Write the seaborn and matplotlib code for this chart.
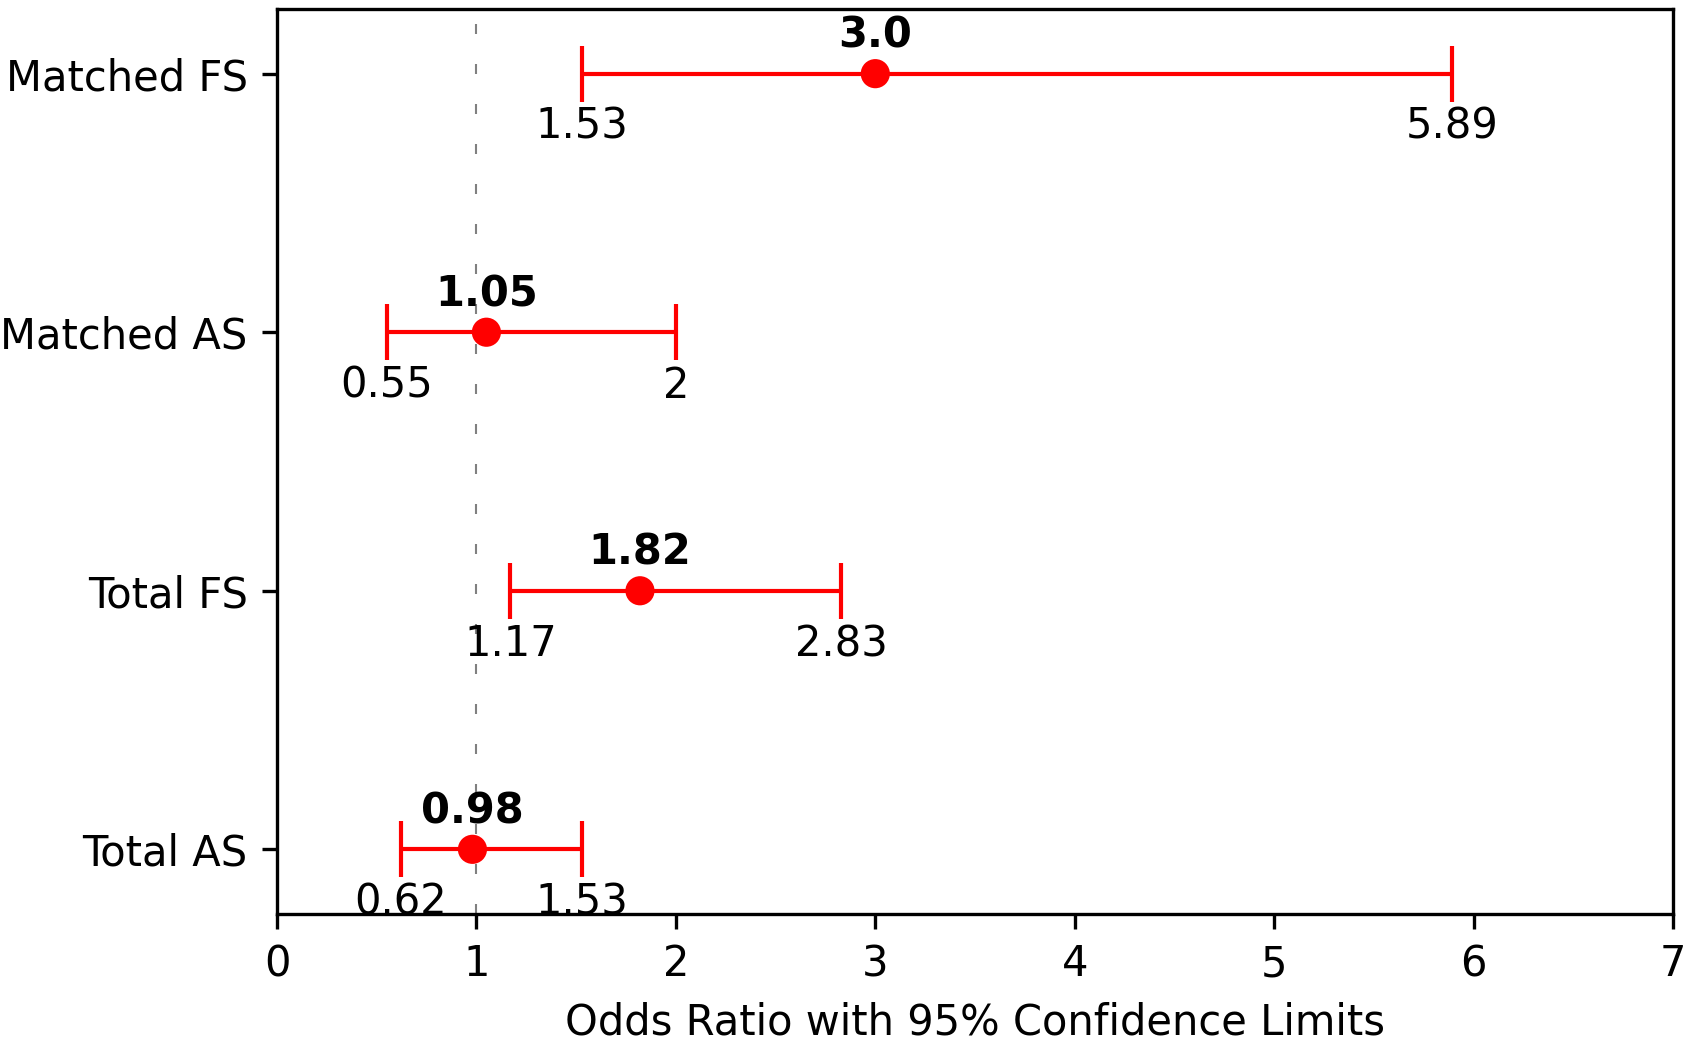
import matplotlib
matplotlib.use("Agg")
import matplotlib.pyplot as plt
import seaborn as sns
import pandas as pd

# Odds ratios with 95% CI, bottom to top
groups = ['Total AS', 'Total FS', 'Matched AS', 'Matched FS']
odds_ratio = [0.98, 1.82, 1.05, 3.0]
lower = [0.62, 1.17, 0.55, 1.53]
upper = [1.53, 2.83, 2, 5.89]

df = pd.DataFrame({'group': groups, 'OR': odds_ratio, 'lo': lower, 'hi': upper})
df['pos'] = range(len(df))

plt.rcParams['font.family'] = ['DejaVu Sans']

fig = plt.figure(figsize=(1686 / 300, 1038 / 300), dpi=300)
ax = fig.add_axes([0.1643, 0.1195, 0.828, 0.8718])

ax.axvline(1, color='grey', linestyle=(0, (4.8, 14.4)), linewidth=0.5)

ax.errorbar(df['OR'], df['pos'],
            xerr=[df['OR'] - df['lo'], df['hi'] - df['OR']],
            fmt='none', ecolor='red', elinewidth=1, capsize=6.7, capthick=1)
sns.scatterplot(data=df, x='OR', y='pos', color='red', s=49, edgecolor='none', ax=ax, zorder=3)

for _, r in df.iterrows():
    ax.text(r['OR'], r['pos'] + 0.065, str(r['OR']), ha='center', va='bottom',
            fontsize=10, fontweight='bold')
    ax.text(r['lo'], r['pos'] - 0.125, f"{r['lo']:g}", ha='center', va='top', fontsize=10)
    ax.text(r['hi'], r['pos'] - 0.125, f"{r['hi']:g}", ha='center', va='top', fontsize=10)

ax.set_xlim(0, 7)
ax.set_ylim(-0.25, 3.25)
ax.set_yticks(df['pos'])
ax.set_yticklabels(df['group'])
ax.set_xlabel('Odds Ratio with 95% Confidence Limits', fontsize=10)
ax.set_ylabel('')
ax.tick_params(labelsize=10)

fig.savefig('out.png', dpi=300)
